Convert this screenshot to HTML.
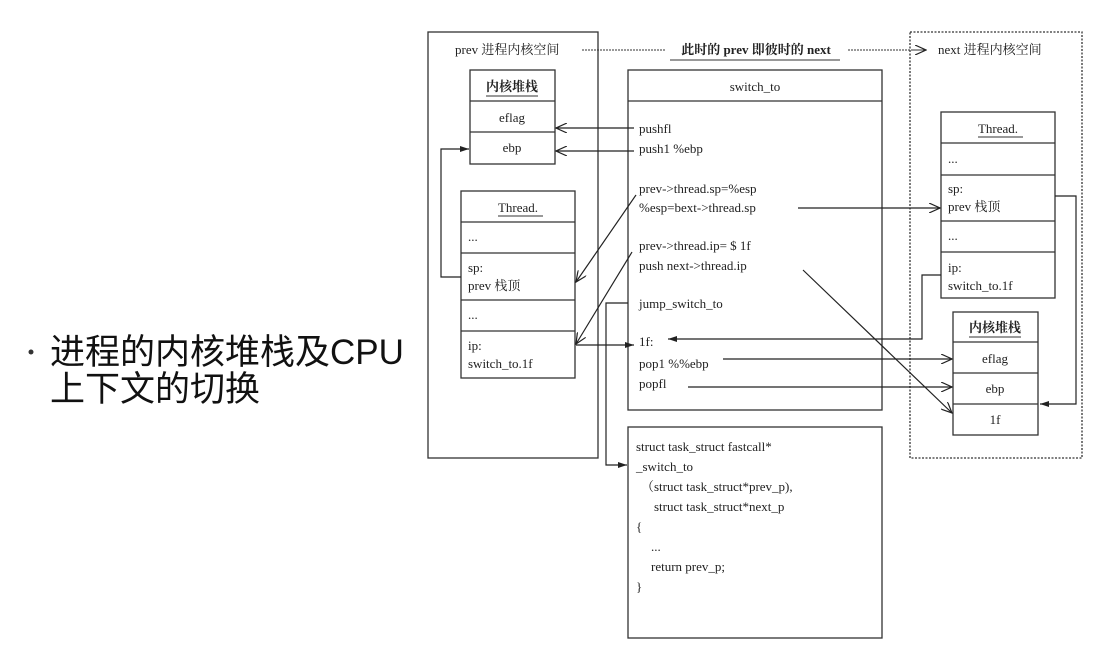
<!DOCTYPE html>
<html><head><meta charset="utf-8"><style>
html,body{margin:0;padding:0;background:#fff;}
svg{display:block;}
text{font-family:"Liberation Serif","Noto Serif CJK SC",serif;font-size:13px;fill:#222;}
.b{font-family:"Liberation Sans","Noto Sans CJK SC",sans-serif;font-size:35px;fill:#111;}
</style></head><body>
<svg width="1101" height="648" viewBox="0 0 1101 648" xmlns="http://www.w3.org/2000/svg">
<defs>
<marker id="o" markerWidth="12" markerHeight="10" refX="11" refY="5" orient="auto" markerUnits="userSpaceOnUse"><path d="M0,0 L11,5 L0,10" fill="none" stroke="#222" stroke-width="1.2"/></marker>
<marker id="f" markerWidth="10" markerHeight="8" refX="9" refY="4" orient="auto" markerUnits="userSpaceOnUse"><path d="M0,1 L9,4 L0,7 Z" fill="#222"/></marker>
</defs>
<circle cx="31" cy="352" r="2.5" fill="#333"/>
<text class="b" x="50" y="364">进程的内核堆栈及CPU</text>
<text class="b" x="50" y="401">上下文的切换</text>
<g fill="none" stroke="#333" stroke-width="1.3">
<rect x="428" y="32" width="170" height="426"/>
<rect x="910" y="32" width="172" height="426" stroke-dasharray="2,1.5"/>
<rect x="470" y="70" width="85" height="94"/>
<line x1="470" y1="101" x2="555" y2="101"/><line x1="470" y1="132" x2="555" y2="132"/>
<rect x="461" y="191" width="114" height="187"/>
<line x1="461" y1="222" x2="575" y2="222"/><line x1="461" y1="253" x2="575" y2="253"/><line x1="461" y1="300" x2="575" y2="300"/><line x1="461" y1="331" x2="575" y2="331"/>
<rect x="628" y="70" width="254" height="340"/>
<line x1="628" y1="101" x2="882" y2="101"/>
<rect x="628" y="427" width="254" height="211"/>
<rect x="941" y="112" width="114" height="186"/>
<line x1="941" y1="143" x2="1055" y2="143"/><line x1="941" y1="175" x2="1055" y2="175"/><line x1="941" y1="221" x2="1055" y2="221"/><line x1="941" y1="252" x2="1055" y2="252"/>
<rect x="953" y="312" width="85" height="123"/>
<line x1="953" y1="342" x2="1038" y2="342"/><line x1="953" y1="373" x2="1038" y2="373"/><line x1="953" y1="404" x2="1038" y2="404"/>
</g>
<g fill="none" stroke="#333" stroke-width="0.9" stroke-dasharray="2,1">
<line x1="582" y1="50" x2="665" y2="50"/><line x1="848" y1="50" x2="912" y2="50"/>
</g>
<path d="M912,50 L926,50" stroke="#333" fill="none" marker-end="url(#o)"/>
<g fill="none" stroke="#222" stroke-width="1.2">
<path d="M634,128 L556,128" marker-end="url(#o)"/>
<path d="M634,151 L556,151" marker-end="url(#o)"/>
<path d="M461,277 L441,277 L441,149 L469,149" marker-end="url(#f)"/>
<path d="M636,195 L576,282" marker-end="url(#o)"/>
<path d="M632,252 L576,344" marker-end="url(#o)"/>
<path d="M576,345 L634,345" marker-end="url(#f)"/>
<path d="M628,303 L606,303 L606,465 L627,465" marker-end="url(#f)"/>
<path d="M798,208 L940,208" marker-end="url(#o)"/>
<path d="M803,270 L952,413" marker-end="url(#o)"/>
<path d="M941,275 L922,275 L922,339 L668,339" marker-end="url(#f)"/>
<path d="M723,359 L952,359" marker-end="url(#o)"/>
<path d="M688,387 L952,387" marker-end="url(#o)"/>
<path d="M1055,196 L1076,196 L1076,404 L1040,404" marker-end="url(#f)"/>
</g>
<text x="455" y="54">prev 进程内核空间</text>
<text x="756" y="54" text-anchor="middle" font-weight="bold">此时的 prev 即彼时的 next</text>
<line x1="670" y1="60" x2="840" y2="60" stroke="#333"/>
<text x="938" y="54">next 进程内核空间</text>
<text x="512" y="91" text-anchor="middle" font-weight="bold">内核堆栈</text>
<line x1="486" y1="96" x2="538" y2="96" stroke="#333"/>
<text x="512" y="122" text-anchor="middle">eflag</text>
<text x="512" y="152" text-anchor="middle">ebp</text>
<text x="518" y="212" text-anchor="middle">Thread.</text>
<line x1="498" y1="216" x2="543" y2="216" stroke="#333"/>
<text x="468" y="241">...</text>
<text x="468" y="272">sp:</text><text x="468" y="290">prev 栈顶</text>
<text x="468" y="319">...</text>
<text x="468" y="350">ip:</text><text x="468" y="368">switch_to.1f</text>
<text x="755" y="91" text-anchor="middle">switch_to</text>
<text x="639" y="133">pushfl</text>
<text x="639" y="153">push1 %ebp</text>
<text x="639" y="193">prev-&gt;thread.sp=%esp</text>
<text x="639" y="212">%esp=bext-&gt;thread.sp</text>
<text x="639" y="250">prev-&gt;thread.ip= $ 1f</text>
<text x="639" y="270">push next-&gt;thread.ip</text>
<text x="639" y="308">jump_switch_to</text>
<text x="639" y="346">1f:</text>
<text x="639" y="368">pop1 %%ebp</text>
<text x="639" y="388">popfl</text>
<text x="998" y="133" text-anchor="middle">Thread.</text>
<line x1="978" y1="137" x2="1023" y2="137" stroke="#333"/>
<text x="948" y="163">...</text>
<text x="948" y="193">sp:</text><text x="948" y="211">prev 栈顶</text>
<text x="948" y="240">...</text>
<text x="948" y="272">ip:</text><text x="948" y="290">switch_to.1f</text>
<text x="995" y="332" text-anchor="middle" font-weight="bold">内核堆栈</text>
<line x1="969" y1="337" x2="1021" y2="337" stroke="#333"/>
<text x="995" y="363" text-anchor="middle">eflag</text>
<text x="995" y="393" text-anchor="middle">ebp</text>
<text x="995" y="424" text-anchor="middle">1f</text>
<text x="636" y="451">struct task_struct fastcall*</text>
<text x="636" y="471">_switch_to</text>
<text x="641" y="491">（struct task_struct*prev_p),</text>
<text x="654" y="511">struct task_struct*next_p</text>
<text x="636" y="531">{</text>
<text x="651" y="551">...</text>
<text x="651" y="571">return prev_p;</text>
<text x="636" y="591">}</text>
</svg>
</body></html>
